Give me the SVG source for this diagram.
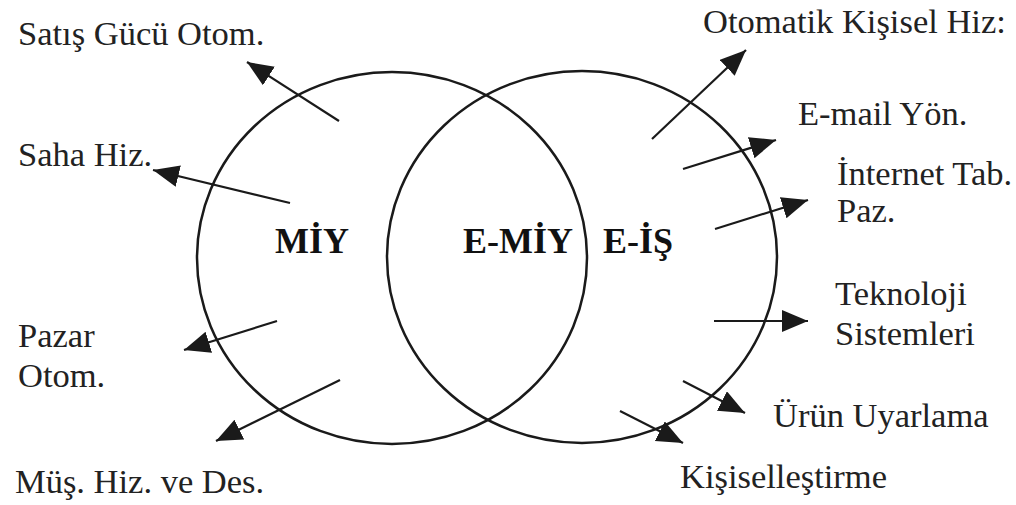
<svg xmlns="http://www.w3.org/2000/svg" width="1016" height="505" viewBox="0 0 1016 505">
<style>
.lbl{font-family:Tinos,'Liberation Serif','Times New Roman',serif;font-size:34.5px;fill:#222}
.hd{font-family:'Liberation Serif','Times New Roman',serif;font-size:36px;font-weight:bold;fill:#111}
.ring{fill:none;stroke:#1a1a1a;stroke-width:2.5}
.arr{stroke:#1a1a1a;stroke-width:2.2;marker-end:url(#ah)}
</style>
<defs>
<marker id="ah" markerUnits="userSpaceOnUse" markerWidth="30" markerHeight="24" refX="26" refY="11" orient="auto">
<path d="M0,0 L26,11 L0,22 Z" fill="#1a1a1a"/>
</marker>
</defs>
<rect width="1016" height="505" fill="#fff"/>
<g id="satis"><text class="lbl" x="18" y="45">Satış Gücü Otom.</text></g>
<g id="saha"><text class="lbl" x="18" y="166">Saha Hiz.</text></g>
<g id="otomatik"><text class="lbl" x="703" y="33">Otomatik Kişisel Hiz:</text></g>
<g id="email"><text class="lbl" x="798" y="125">E-mail Yön.</text></g>
<g id="internet"><text class="lbl" x="837" y="185">İnternet Tab.</text><text class="lbl" x="837" y="222">Paz.</text></g>
<g id="teknoloji"><text class="lbl" x="835" y="305">Teknoloji</text><text class="lbl" x="835" y="345">Sistemleri</text></g>
<g id="urun"><text class="lbl" x="773" y="427">Ürün Uyarlama</text></g>
<g id="kisisel"><text class="lbl" x="680" y="488">Kişiselleştirme</text></g>
<g id="pazar"><text class="lbl" x="18" y="347">Pazar</text><text class="lbl" x="18" y="387">Otom.</text></g>
<g id="mus"><text class="lbl" x="15" y="493">Müş. Hiz. ve Des.</text></g>
<g id="miy">
<ellipse class="ring" cx="392" cy="258" rx="195" ry="186"/>
<text class="hd" x="275" y="253">MİY</text>
</g>
<g id="eis">
<ellipse class="ring" cx="582" cy="257" rx="195" ry="186"/>
<text class="hd" x="603" y="253">E-İŞ</text>
</g>
<g id="emiy"><text class="hd" x="463" y="253">E-MİY</text></g>
<g id="connectors">
<line class="arr" x1="339" y1="121" x2="247" y2="62"/>
<line class="arr" x1="290" y1="203" x2="153" y2="170"/>
<line class="arr" x1="652" y1="139" x2="746" y2="50"/>
<line class="arr" x1="683" y1="169" x2="776" y2="140"/>
<line class="arr" x1="715" y1="229" x2="808" y2="200"/>
<line class="arr" x1="714" y1="321" x2="808" y2="321"/>
<line class="arr" x1="683" y1="381" x2="745" y2="413"/>
<line class="arr" x1="620" y1="411" x2="683" y2="443"/>
<line class="arr" x1="277" y1="321" x2="184" y2="350"/>
<line class="arr" x1="340" y1="380" x2="216" y2="441"/>
</g>
</svg>
